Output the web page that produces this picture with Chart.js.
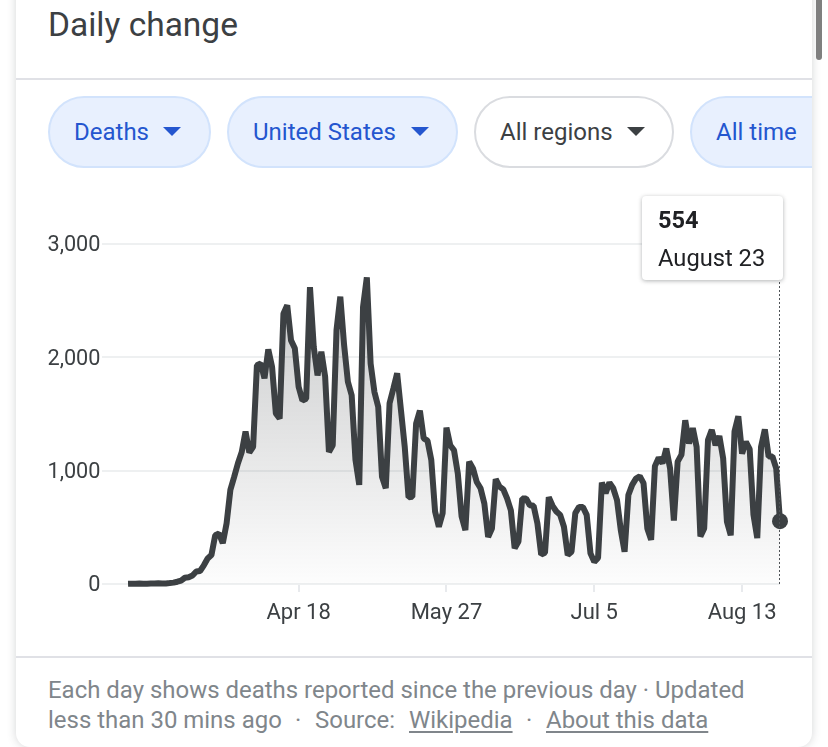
<!DOCTYPE html>
<html>
<head>
<meta charset="utf-8">
<title>Daily change</title>
<script src="https://cdn.jsdelivr.net/npm/chart.js@4"></script>
<style>
  html, body { margin: 0; padding: 0; background: #fff; overflow: hidden; }
  body { width: 828px; height: 747px; position: relative; font-family: Roboto, sans-serif; color: #3c4043; }
  #card { position: absolute; left: 16px; top: -20px; width: 796px; height: 767px; background: #fff;
          border-radius: 0 0 14px 14px; box-shadow: 0 0 10px rgba(60,64,67,.22); overflow: hidden; }
  #scrollbar { position: absolute; left: 816px; top: 0; width: 6px; height: 60px; background: #7f7f7f; border-radius: 0 0 3px 3px; }
  h1 { position: absolute; left: 48px; top: 6px; margin: 0; font-size: 33.5px; line-height: 38px; font-weight: 400; }
  .rule { position: absolute; left: 16px; width: 796px; height: 2px; background: #e0e1e6; }
  #chips { position: absolute; left: 16px; top: 96px; width: 796px; height: 72px; overflow: hidden; }
  .chip { position: absolute; top: 0; height: 68px; border: 2px solid #d2e3fc; border-radius: 36px; background: #e8f0fe;
          color: #2456cf; font-size: 24px; line-height: 68px; box-sizing: content-box; white-space: nowrap; }
  .chip span { position: absolute; top: 0; }
  .chip i { position: absolute; top: 29px; width: 0; height: 0; border-left: 9px solid transparent; border-right: 9px solid transparent; border-top: 9px solid currentColor; }
  .chip.plain { background: #fff; border-color: #dadce0; color: #3c4043; }
  #chart-box { position: absolute; left: 0; top: 190px; width: 828px; height: 460px; }
  #tip { position: absolute; left: 642px; top: 196px; width: 141px; height: 84px; background: #fff; border-radius: 4px;
         box-shadow: 0 1px 4px rgba(60,64,67,.4); color: #202124; }
  #tip b { position: absolute; left: 16px; top: 9px; font-size: 23.5px; line-height: 30px; font-weight: 700; }
  #tip span { position: absolute; left: 16px; top: 47px; font-size: 23.7px; line-height: 30px; white-space: nowrap; }
  #note { position: absolute; left: 48px; top: 675px; width: 740px; height: 60px; font-size: 23.96px; line-height: 30px; color: #80868b; white-space: nowrap; }
  #note span, #note u { position: absolute; top: 30px; }
  #note u { text-underline-offset: 3px; }
</style>
</head>
<body>
<div id="card"></div>
<div id="scrollbar"></div>
<h1>Daily change</h1>
<div class="rule" style="top:78px"></div>
<div id="chips">
  <div class="chip" style="left:32px;width:159px"><span style="left:24px">Deaths</span><i style="left:113px"></i></div>
  <div class="chip" style="left:211px;width:227px"><span style="left:24px">United States</span><i style="left:182px"></i></div>
  <div class="chip plain" style="left:458px;width:196px"><span style="left:24px">All regions</span><i style="left:151px"></i></div>
  <div class="chip" style="left:674px;width:200px"><span style="left:24px">All time</span></div>
</div>
<div id="chart-box"><canvas id="dailyChart" width="828" height="460"></canvas></div>
<div id="tip"><b id="tipValue"></b><span id="tipDate"></span></div>
<div class="rule" style="top:656px"></div>
<div id="note">Each day shows deaths reported since the previous day · Updated
  <span style="left:0">less than 30 mins ago</span><span style="left:247px">·</span><span style="left:267px">Source:</span><u style="left:361px">Wikipedia</u><span style="left:478px">·</span><u style="left:498px">About this data</u>
</div>

<script>
// daily deaths, one per day from Mar 4 to Aug 23
const dailyDeaths = [
    2, 3, 2, 4, 3, 3, 5, 4, 6, 5, 5, 8,
    12, 20, 30, 55, 60, 75, 110, 115, 165, 225, 255, 430,
    445, 360, 535, 830, 945, 1065, 1165, 1345, 1160, 1210, 1930, 1945,
    1815, 2070, 1915, 1505, 1460, 2385, 2460, 2150, 2080, 1740, 1620, 1635,
    2620, 2090, 1840, 2050, 1830, 1165, 1225, 2240, 2535, 2110, 1785, 1665,
    1095, 875, 2445, 2705, 1945, 1695, 1565, 945, 845, 1595, 1725, 1860,
    1535, 1210, 765, 770, 1415, 1530, 1285, 1265, 1095, 640, 505, 625,
    1380, 1225, 1180, 975, 595, 475, 1080, 1020, 900, 845, 710, 415,
    490, 925, 860, 835, 755, 650, 315, 375, 755, 755, 695, 690,
    535, 260, 275, 765, 690, 640, 610, 505, 255, 285, 625, 680,
    680, 610, 270, 195, 230, 895, 800, 895, 845, 740, 475, 285,
    785, 875, 930, 950, 890, 490, 390, 1040, 1115, 1065, 1195, 1020,
    560, 1080, 1140, 1445, 1240, 1375, 1210, 420, 490, 1270, 1360, 1225,
    1305, 1110, 550, 430, 1345, 1480, 1150, 1255, 1190, 610, 405, 1210,
    1365, 1125, 1125, 1020, 554
];
const yTicks = [0, 1000, 2000, 3000];
const tickDays = [45, 84, 123, 162];
const tickLabels = ['Apr 18', 'May 27', 'Jul 5', 'Aug 13'];
const hoverLabel = 'August 23';

const lastDay = dailyDeaths.length - 1;
const points = dailyDeaths.map((v, i) => ({ x: i, y: v }));

document.getElementById('tipValue').textContent = dailyDeaths[lastDay];
document.getElementById('tipDate').textContent = hoverLabel;

new Chart(document.getElementById('dailyChart'), {
    type: 'line',
    data: {
        datasets: [
            {
                data: [{ x: lastDay, y: 0 }, { x: lastDay, y: 3000 }],
                borderColor: '#4f5357',
                borderWidth: 2,
                borderDash: [2, 2],
                pointRadius: 0,
                fill: false
            },
            {
                data: points,
                borderColor: '#3c4043',
                borderWidth: 6,
                borderJoinStyle: 'bevel',
                tension: 0,
                clip: false,
                fill: 'origin',
                backgroundColor: function (ctx) {
                    const area = ctx.chart.chartArea;
                    if (!area) return 'transparent';
                    const g = ctx.chart.ctx.createLinearGradient(0, area.top + 36, 0, area.bottom);
                    g.addColorStop(0, 'rgba(60,64,67,0.28)');
                    g.addColorStop(1, 'rgba(60,64,67,0.01)');
                    return g;
                },
                pointRadius: ctx => ctx.dataIndex === lastDay ? 8 : 0,
                pointBackgroundColor: '#3c4043',
                pointBorderWidth: 0
            }
        ]
    },
    options: {
        responsive: false,
        animation: false,
        layout: { padding: { top: 54, right: 48, bottom: 26, left: 0 } },
        plugins: { legend: { display: false }, tooltip: { enabled: false } },
        scales: {
            x: {
                type: 'linear',
                min: -7,
                max: lastDay,
                afterBuildTicks: scale => { scale.ticks = tickDays.map(d => ({ value: d })); },
                afterFit: scale => { scale.height = 40; },
                border: { display: false },
                grid: { drawOnChartArea: false, tickLength: 8, color: '#e8eaed', lineWidth: 2 },
                ticks: {
                    autoSkip: false,
                    maxRotation: 0,
                    padding: 8,
                    color: '#3c4043',
                    font: { family: 'Roboto', size: 22 },
                    callback: value => tickLabels[tickDays.indexOf(value)]
                }
            },
            y: {
                min: 0,
                max: 3000,
                afterBuildTicks: scale => { scale.ticks = yTicks.map(v => ({ value: v })); },
                afterFit: scale => { scale.width = 101.5; },
                border: { display: false },
                grid: { drawTicks: false, color: '#eef0f1', lineWidth: 2 },
                ticks: {
                    padding: 1,
                    color: '#3c4043',
                    // two-line label with a 4px line height moves the text 2px below the gridline
                    font: { family: 'Roboto', size: 21.7, lineHeight: '4px' },
                    callback: value => ['', value.toLocaleString('en-US')]
                }
            }
        }
    }
});
</script>
</body>
</html>
